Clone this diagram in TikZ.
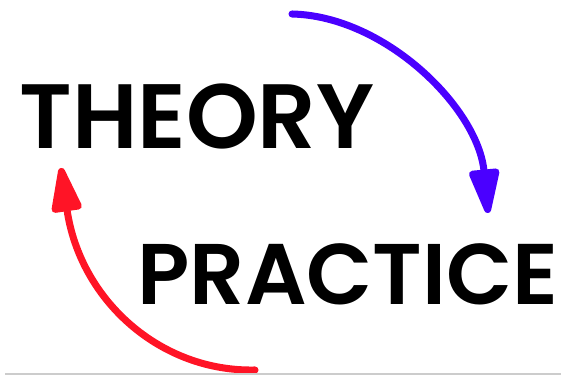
\documentclass[tikz,border=0pt]{standalone}
\usepackage{fontspec}
\setmainfont{Poppins}
\newfontfamily\wordfont{Poppins SemiBold}
\usepackage{tikz}
\usetikzlibrary{arrows.meta}
\definecolor{cycleblue}{HTML}{4A00FF}
\definecolor{cyclered}{HTML}{FF1426}
\definecolor{rulegray}{HTML}{CCCCCC}

\begin{document}
\begin{tikzpicture}[
    x=0.02cm, y=-0.02cm,
    word/.style={inner sep=0pt, font=\wordfont\fontsize{52}{62}\selectfont},
    cyc/.style={line width=4pt, line cap=round,
                -{Triangle[length=1.05cm, width=0.62cm, round]}}
  ]
    \useasboundingbox (0,0) rectangle (561,378);

    \node[word] (theory)   at (197,116) {THEORY};
    \node[word, font=\wordfont\fontsize{49}{59}\selectfont]
                (practice) at (348,274) {PRACTICE};

    \coordinate (bluestart) at (292,14);
    \coordinate (blueend)   at (488,213);
    \coordinate (redstart)  at (255,370);
    \coordinate (redend)    at (61,168);
    \coordinate (ruleleft)  at (5,374);
    \coordinate (ruleright) at (561,374);

    \draw[cyc, cycleblue] (bluestart) .. controls (385,16) and (478,108) .. (blueend);
    \draw[cyc, cyclered]  (redstart) .. controls (160,372) and (80,300) .. (redend);

    \draw[rulegray, line width=0.8pt] (ruleleft) -- (ruleright);
  \end{tikzpicture}
\end{document}
